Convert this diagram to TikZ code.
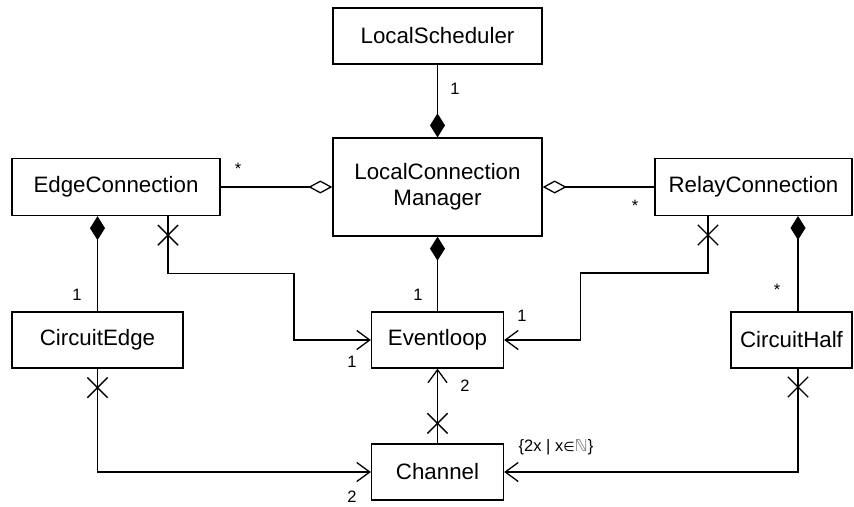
\documentclass[tikz,border=0pt]{standalone}
\usepackage{fontspec}
\setmainfont{Liberation Sans}
\newfontfamily\dejavu{DejaVu Sans}
\usetikzlibrary{arrows.meta,shapes.misc,calc}
\begin{document}
\begin{tikzpicture}[x=1pt,y=-1pt,
  cls/.style={draw,line width=1.3pt,inner sep=0pt,font=\fontsize{22.3}{26}\selectfont,align=center},
  lbl/.style={inner sep=0pt,font=\fontsize{16.5}{18}\selectfont},
  conn/.style={line width=1.3pt},
  comp/.style={conn,{Diamond[length=24pt,width=15pt]}-},
  agg/.style={conn,-{Diamond[open,length=24pt,width=13pt]}},
  nav/.style={conn,-{Straight Barb[length=13pt,width=19pt,line width=1.3pt]}},
  xmark/.style={cross out,draw,line width=1.3pt,minimum size=19pt,inner sep=0pt}]
\useasboundingbox (0,0) rectangle (854,506);
\fill[white] (0,0) rectangle (854,506);
% classes
\node[cls,minimum width=209pt,minimum height=56pt] (ls) at (437.5,36) {LocalScheduler};
\node[cls,minimum width=209pt,minimum height=98pt] (lcm) at (437.5,187) {LocalConnection\\Manager};
\node[cls,minimum width=208pt,minimum height=57pt] (ec) at (116,187) {EdgeConnection};
\node[cls,minimum width=197pt,minimum height=57pt] (rc) at (753.5,187) {RelayConnection};
\node[cls,minimum width=171pt,minimum height=56pt] (ce) at (97.5,340) {CircuitEdge};
\node[cls,minimum width=132pt,minimum height=56pt] (el) at (437.5,340) {Eventloop};
\node[cls,minimum width=121pt,minimum height=56pt] (chf) at (791.5,340) {CircuitHalf};
\node[cls,minimum width=132pt,minimum height=56pt] (ch) at (437.5,472) {Channel};
% bend points
\coordinate (ecx) at ($(ec.south)+(52,0)$);
\coordinate (rcx) at (708,216);
\coordinate (rcd) at (798,216);
\coordinate (chfu) at (798,312);
\coordinate (chfd) at (798,368);
% connectors
\draw[comp] (lcm.north) -- (ls.south);
\draw[agg] (ec.east) -- (lcm.west);
\draw[agg] (rc.west) -- (lcm.east);
\draw[comp] (ec.south -| ce.north) -- (ce.north);
\draw[comp] (lcm.south) -- (el.north);
\draw[comp] (rcd) -- (chfu);
\draw[nav] (ecx) -- ($(ecx)+(0,57)$) -| ($(el.west)+(-77,0)$) -- (el.west);
\draw[nav] (rcx) -- ($(rcx)+(0,57)$) -| ($(el.east)+(76,0)$) -- (el.east);
\draw[nav] (ce.south) |- (ch.west);
\draw[nav] (ch.north) -- (el.south);
\draw[nav] (chfd) |- (ch.east);
% navigability crosses
\node[xmark] (x1) at ($(ecx)+(0,19)$) {};
\node[xmark] (x2) at ($(rcx)+(0,19)$) {};
\node[xmark] (x3) at ($(ce.south)+(0,19)$) {};
\node[xmark] (x4) at ($(ch.north)+(0,-20)$) {};
\node[xmark] (x5) at ($(chfd)+(0,19)$) {};
% multiplicities
\node[lbl] (m1) at (455,89) {1};
\node[lbl] (m2) at (238,169) {*};
\node[lbl] (m3) at (635,206) {*};
\node[lbl] (m4) at (77,295) {1};
\node[lbl] (m5) at (418,295) {1};
\node[lbl] (m6) at (352,362) {1};
\node[lbl] (m7) at (522,316) {1};
\node[lbl] (m8) at (465,386) {2};
\node[lbl] (m9) at (777,290) {*};
\node[lbl] (m10) at (352,497) {2};
\node[lbl,font=\fontsize{16.5}{18}\selectfont] (m11) at (556,447) {\{2x | x{\dejavu\fontsize{13}{14}\selectfont ∈}{\dejavu\color{gray}ℕ}\}};
\end{tikzpicture}
\end{document}
